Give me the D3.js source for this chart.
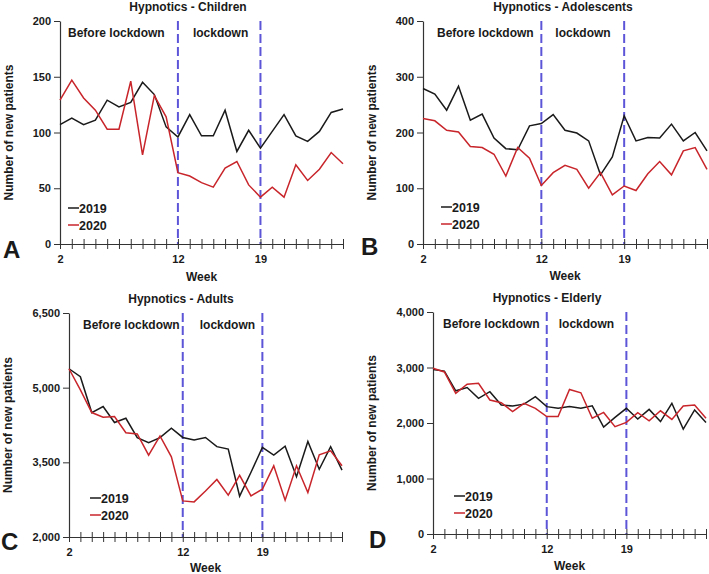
<!DOCTYPE html>
<html>
<head>
<meta charset="utf-8">
<script src="https://cdn.jsdelivr.net/npm/d3@7"></script>
<style>
  body { margin: 0; background: #fff; }
  svg text { font-family: "Liberation Sans", Arial, sans-serif; font-weight: bold; fill: #1a1a1a; }
</style>
</head>
<body>
<svg id="chart" width="709" height="574"></svg>
<script>
// weeks on the x axis
const weeks = [2, 3, 4, 5, 6, 7, 8, 9, 10, 11, 12, 13, 14, 15, 16, 17, 18, 19, 20, 21, 22, 23, 24, 25, 26];
const labelledWeeks = [2, 12, 19];
const lockdownWeeks = [12, 19];

// A - children
const children2019 = [107, 113, 107, 111, 129, 123, 127, 145, 134, 105, 96, 116, 97, 97, 120, 83, 102, 86, 101, 116, 97, 92, 101, 118, 121];
const children2020 = [129, 147, 131, 120, 103, 103, 146, 80, 133, 114, 64, 61, 55, 51, 68, 74, 53, 42, 51, 42, 71, 57, 67, 82, 72];
const childrenTicks = [0, 50, 100, 150, 200];

// B - adolescents
const adol2019 = [279, 269, 240, 283, 222, 233, 190, 171, 169, 212, 216, 232, 204, 199, 185, 124, 156, 230, 185, 191, 190, 215, 185, 200, 167];
const adol2020 = [225, 221, 204, 201, 175, 173, 161, 122, 173, 154, 105, 128, 141, 134, 100, 128, 88, 104, 96, 126, 148, 124, 167, 173, 134];
const adolTicks = [0, 100, 200, 300, 400];

// C - adults
const adults2019 = [5380, 5220, 4500, 4620, 4300, 4385, 3995, 3895, 3995, 4185, 4000, 3950, 4000, 3815, 3765, 2820, 3300, 3800, 3645, 3825, 3210, 3920, 3360, 3815, 3345];
const adults2020 = [5380, 4955, 4500, 4405, 4420, 4095, 4070, 3645, 4030, 3610, 2725, 2705, 2925, 3155, 2840, 3240, 2825, 2960, 3430, 2740, 3430, 2895, 3650, 3730, 3430];
const adultsTicks = [2000, 3500, 5000, 6500];

// D - elderly
const elderly2019 = [2965, 2935, 2580, 2640, 2445, 2565, 2325, 2305, 2340, 2475, 2295, 2265, 2295, 2265, 2310, 1925, 2100, 2265, 2070, 2245, 2025, 2355, 1890, 2235, 2010];
const elderly2020 = [2985, 2920, 2535, 2700, 2715, 2415, 2365, 2205, 2355, 2265, 2115, 2115, 2605, 2545, 2085, 2190, 1935, 2010, 2185, 2040, 2220, 2065, 2305, 2325, 2085];
const elderlyTicks = [0, 1000, 2000, 3000, 4000];

const panels = [
  { title: "Hypnotics - Children", letter: "A", a: children2019, b: children2020, ticks: childrenTicks,
    box: { left: 60, right: 343, top: 21, bottom: 244 }, fmt: d3.format("d"),
    titleX: 188, titleY: 11, letterX: 3, letterY: 258, ylabX: 13, beforeDx: 8, lockDx: 15, legX: 68, legY: 208, weekY: 281 },
  { title: "Hypnotics - Adolescents", letter: "B", a: adol2019, b: adol2020, ticks: adolTicks,
    box: { left: 423, right: 707, top: 21, bottom: 244 }, fmt: d3.format("d"),
    titleX: 563, titleY: 11, letterX: 361, letterY: 255, ylabX: 376, beforeDx: 14, lockDx: 14, legX: 441, legY: 207, weekY: 280 },
  { title: "Hypnotics - Adults", letter: "C", a: adults2019, b: adults2020, ticks: adultsTicks,
    box: { left: 69, right: 342, top: 313, bottom: 537 }, fmt: d3.format(","),
    titleX: 181, titleY: 303, letterX: 1, letterY: 550, ylabX: 12, beforeDx: 14, lockDx: 17, legX: 90, legY: 498, weekY: 572 },
  { title: "Hypnotics - Elderly", letter: "D", a: elderly2019, b: elderly2020, ticks: elderlyTicks,
    box: { left: 433, right: 706, top: 312, bottom: 534 }, fmt: d3.format(","),
    titleX: 547, titleY: 302, letterX: 369, letterY: 548, ylabX: 376, beforeDx: 10, lockDx: 12, legX: 454, legY: 496, weekY: 570 }
];

const svg = d3.select("#chart");
const black = "#1a1a1a", red = "#c8252b", dashBlue = "#5d55d8";

panels.forEach(p => {
  const g = svg.append("g");
  const x = d3.scaleLinear().domain([2, 26]).range([p.box.left, p.box.right]);
  const y = d3.scaleLinear().domain(d3.extent(p.ticks)).range([p.box.bottom, p.box.top]);

  // dashed lockdown markers
  lockdownWeeks.forEach(w => {
    g.append("line")
      .attr("x1", x(w)).attr("x2", x(w))
      .attr("y1", p.box.top).attr("y2", p.box.bottom)
      .attr("stroke", dashBlue).attr("stroke-width", 2)
      .attr("stroke-dasharray", "9,4");
  });

  // y axis
  const yAxis = d3.axisLeft(y).tickValues(p.ticks).tickFormat(p.fmt).tickSize(6).tickSizeOuter(0).tickPadding(3);
  const ya = g.append("g").attr("transform", `translate(${p.box.left},0)`).call(yAxis);
  ya.select(".domain").attr("stroke", "#333").attr("stroke-width", 1.2);
  ya.selectAll(".tick line").attr("stroke", "#333");
  ya.selectAll("text").style("font-size", "11px").attr("fill", black);

  // x axis, ticks cross the line
  const xAxis = d3.axisBottom(x).tickValues(weeks)
    .tickFormat(d => labelledWeeks.includes(d) ? d : "").tickSize(5).tickSizeOuter(0);
  const xa = g.append("g").attr("transform", `translate(0,${p.box.bottom})`).call(xAxis);
  xa.select(".domain").attr("stroke", "#333").attr("stroke-width", 1.2);
  xa.selectAll(".tick line").attr("y1", -5).attr("y2", 5).attr("stroke", "#333");
  xa.selectAll("text").attr("y", 11).style("font-size", "11px").attr("fill", black);

  // series
  const line = d3.line().x((d, i) => x(weeks[i])).y(d => y(d));
  g.append("path").datum(p.a).attr("d", line).attr("fill", "none").attr("stroke", black).attr("stroke-width", 1.5);
  g.append("path").datum(p.b).attr("d", line).attr("fill", "none").attr("stroke", red).attr("stroke-width", 1.5);

  // titles and labels
  g.append("text").attr("x", p.titleX).attr("y", p.titleY)
    .attr("text-anchor", "middle").style("font-size", "12px").text(p.title);
  g.append("text").attr("x", (p.box.left + p.box.right) / 2).attr("y", p.weekY)
    .attr("text-anchor", "middle").style("font-size", "12px").text("Week");
  g.append("text").attr("transform", `translate(${p.ylabX},${(p.box.top + p.box.bottom) / 2}) rotate(-90)`)
    .attr("text-anchor", "middle").style("font-size", "12px").text("Number of new patients");
  g.append("text").attr("x", p.letterX).attr("y", p.letterY).style("font-size", "24px").text(p.letter);

  const labY = p.box.top + 16;
  g.append("text").attr("x", p.box.left + p.beforeDx).attr("y", labY).style("font-size", "12px").text("Before lockdown");
  g.append("text").attr("x", x(12) + p.lockDx).attr("y", labY).style("font-size", "12px").text("lockdown");

  // legend
  [["2019", black], ["2020", red]].forEach(([name, col], i) => {
    const ly = p.legY + i * 17;
    g.append("line").attr("x1", p.legX).attr("x2", p.legX + 11).attr("y1", ly).attr("y2", ly)
      .attr("stroke", col).attr("stroke-width", 1.5);
    g.append("text").attr("x", p.legX + 11).attr("y", ly + 4.5).style("font-size", "12.5px").text(name);
  });
});
</script>
</body>
</html>
